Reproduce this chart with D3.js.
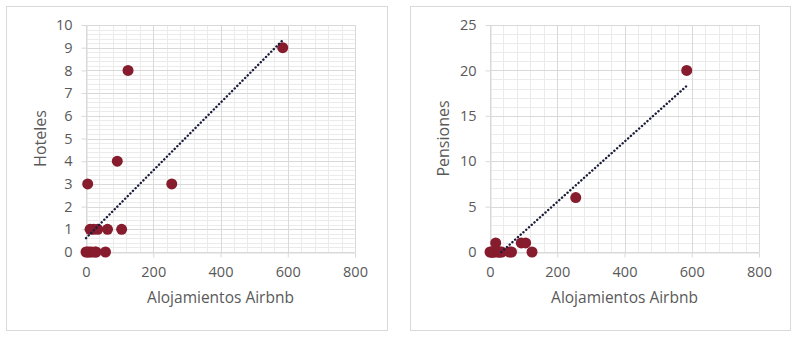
<!DOCTYPE html>
<html>
<head>
<meta charset="utf-8">
<script src="https://cdn.jsdelivr.net/npm/d3@7"></script>
<style>
  body { margin: 0; background: #fff; }
  text { font-family: "Open Sans", sans-serif; }
</style>
</head>
<body>
<svg id="chart" width="800" height="347"></svg>
<script>
// airbnb listings per municipality (shared x for both panels)
const airbnb    = [0, 5, 5, 10, 12, 17, 22, 27, 30, 35, 58, 64, 93, 106, 125, 255, 585];
const hoteles   = [0, 3, 0, 0, 1, 0, 1, 0, 0, 1, 0, 1, 4, 1, 8, 3, 9];
const pensiones = [0, 0, 0, 0, 0, 1, 0, 0, 0, 0, 0, 0, 1, 1, 0, 6, 20];

const xTicks = [0, 200, 400, 600, 800];
const hotelTicks = [0, 1, 2, 3, 4, 5, 6, 7, 8, 9, 10];
const pensionTicks = [0, 5, 10, 15, 20, 25];

const panels = [
  { box: [6.5, 6.5, 381, 324], plot: { left: 86, right: 355, top: 25, bottom: 252 },
    yLabel: 'Hoteles', ys: hoteles, yTicks: hotelTicks, yMinor: 0.2, yTitleX: 40 },
  { box: [410.5, 6.5, 380, 324], plot: { left: 490, right: 759, top: 25, bottom: 252 },
    yLabel: 'Pensiones', ys: pensiones, yTicks: pensionTicks, yMinor: 1, yTitleX: 443 }
];

const svg = d3.select('#chart');
const markColor = '#861c2d';
const textColor = '#595959';

panels.forEach(p => drawPanel(p));

function drawPanel(p) {
  const g = svg.append('g');
  const m = p.plot;

  g.append('rect')
    .attr('x', p.box[0]).attr('y', p.box[1])
    .attr('width', p.box[2]).attr('height', p.box[3])
    .attr('fill', '#fff')
    .attr('stroke', '#d9d9d9');

  const x = d3.scaleLinear().domain([0, 800]).range([m.left, m.right]);
  const yMax = p.yTicks[p.yTicks.length - 1];
  const y = d3.scaleLinear().domain([0, yMax]).range([m.bottom, m.top]);

  // minor grid
  const xMinor = d3.range(0, 800.001, 40);
  const yMinor = d3.range(0, yMax + 0.0001, p.yMinor);
  g.append('g').selectAll('line').data(xMinor).join('line')
    .attr('x1', d => Math.round(x(d)) + 0.5).attr('x2', d => Math.round(x(d)) + 0.5)
    .attr('y1', m.top).attr('y2', m.bottom)
    .attr('stroke', '#ebebeb');
  g.append('g').selectAll('line').data(yMinor).join('line')
    .attr('y1', d => Math.round(y(d)) + 0.5).attr('y2', d => Math.round(y(d)) + 0.5)
    .attr('x1', m.left).attr('x2', m.right)
    .attr('stroke', '#ebebeb');

  // major grid
  g.append('g').selectAll('line').data(xTicks).join('line')
    .attr('x1', d => Math.round(x(d)) + 0.5).attr('x2', d => Math.round(x(d)) + 0.5)
    .attr('y1', m.top).attr('y2', m.bottom)
    .attr('stroke', '#d9d9d9');
  g.append('g').selectAll('line').data(p.yTicks).join('line')
    .attr('y1', d => Math.round(y(d)) + 0.5).attr('y2', d => Math.round(y(d)) + 0.5)
    .attr('x1', m.left).attr('x2', m.right)
    .attr('stroke', '#d9d9d9');

  // axes
  const xAxis = g.append('g')
    .attr('transform', `translate(0,${m.bottom + 0.5})`)
    .call(d3.axisBottom(x).tickValues(xTicks).tickSize(5).tickSizeOuter(0).tickPadding(9));
  const yAxis = g.append('g')
    .attr('transform', `translate(${m.left + 0.5},0)`)
    .call(d3.axisLeft(y).tickValues(p.yTicks).tickSize(5).tickSizeOuter(0).tickPadding(9));
  [xAxis, yAxis].forEach(a => {
    a.select('.domain').attr('stroke', '#d9d9d9');
    a.selectAll('.tick line').attr('stroke', '#d9d9d9');
    a.selectAll('.tick text')
      .attr('fill', textColor)
      .style('font-size', '14.5px')
      .style('font-family', '"Open Sans", sans-serif');
  });

  // trendline (least squares), clipped to the plot area
  const mx = d3.mean(airbnb), my = d3.mean(p.ys);
  const sxy = d3.sum(airbnb, (d, i) => (d - mx) * (p.ys[i] - my));
  const sxx = d3.sum(airbnb, d => (d - mx) * (d - mx));
  const slope = sxy / sxx, icpt = my - slope * mx;
  let x0 = d3.min(airbnb), x1 = d3.max(airbnb);
  if (icpt + slope * x0 < 0) x0 = -icpt / slope;

  // points
  g.append('g').selectAll('circle')
    .data(airbnb.map((d, i) => ({ x: d, y: p.ys[i] })))
    .join('circle')
    .attr('cx', d => x(d.x))
    .attr('cy', d => y(d.y))
    .attr('r', 5.5)
    .attr('fill', markColor);

  g.append('line')
    .attr('x1', x(x0)).attr('y1', y(icpt + slope * x0))
    .attr('x2', x(x1)).attr('y2', y(icpt + slope * x1))
    .attr('stroke', '#1a1d3a')
    .attr('stroke-width', 2.4)
    .attr('stroke-linecap', 'round')
    .attr('stroke-dasharray', '0.1,3.6');

  // titles
  g.append('text')
    .attr('x', (m.left + m.right) / 2).attr('y', 303)
    .attr('text-anchor', 'middle')
    .attr('fill', textColor)
    .style('font-size', '15.5px')
    .text('Alojamientos Airbnb');
  g.append('text')
    .attr('transform', `translate(${p.yTitleX + 5.5},${(m.top + m.bottom) / 2}) rotate(-90)`)
    .attr('text-anchor', 'middle')
    .attr('fill', textColor)
    .style('font-size', '16px')
    .text(p.yLabel);
}
</script>
</body>
</html>
